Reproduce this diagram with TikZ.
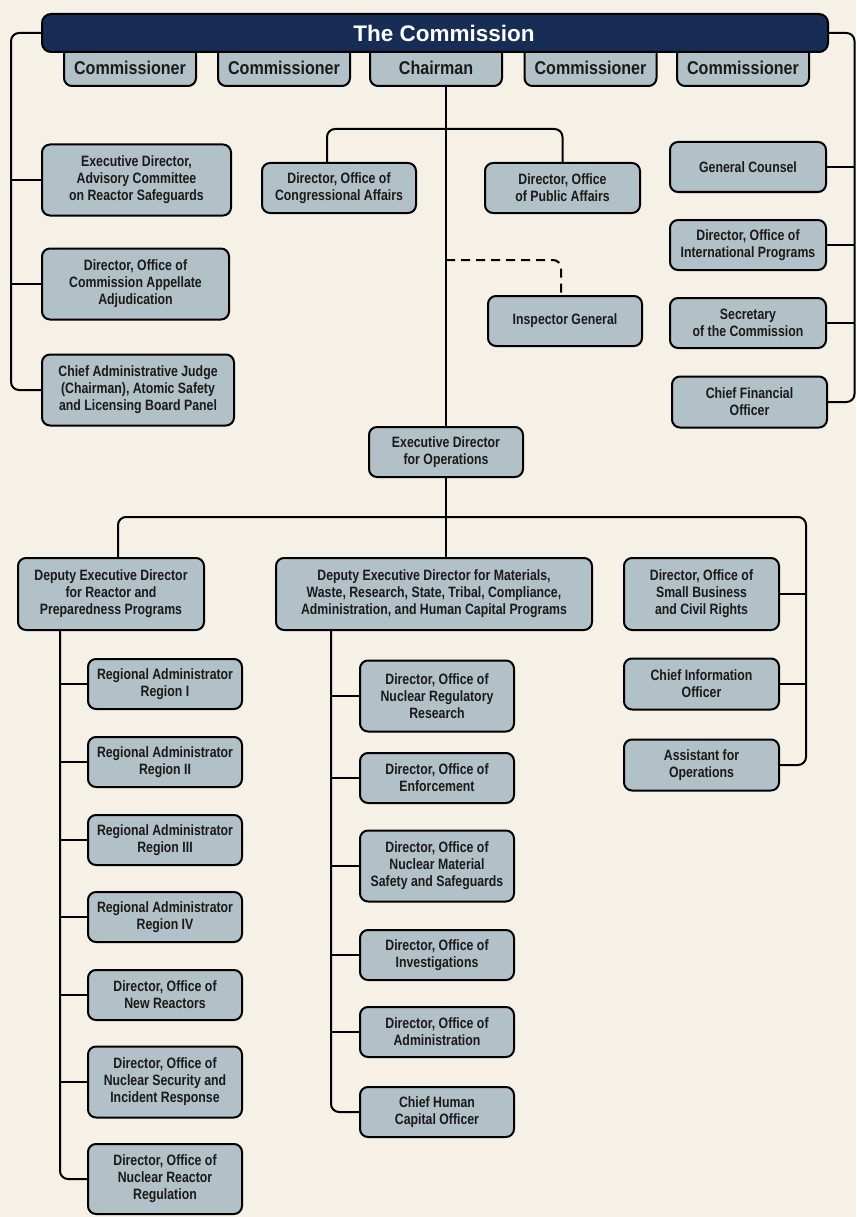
\documentclass[tikz,border=0pt]{standalone}
\usepackage{fontspec}
\newfontfamily\bodyf{Liberation Sans Bold}[FakeStretch=0.82]
\newfontfamily\headf{Liberation Sans Bold}[FakeStretch=0.87]
\newfontfamily\titlef{Liberation Sans Bold}
\definecolor{bgc}{RGB}{245,241,231}
\definecolor{boxc}{RGB}{178,192,199}
\definecolor{navy}{RGB}{24,45,86}
\definecolor{txtc}{RGB}{26,26,26}
\pgfdeclarelayer{back}
\pgfdeclarelayer{lines}
\pgfsetlayers{back,lines,main}
\tikzset{
  box/.style={draw=black, line width=2pt, fill=boxc, rounded corners=8pt, inner sep=0pt,
    align=center, text=txtc, font=\bodyf\fontsize{15}{17}\selectfont},
  combox/.style={box, font=\headf\fontsize{18.5}{20}\selectfont, minimum width=132pt,
    text height=35pt, text depth=11pt},
  titlebox/.style={draw=black, line width=2pt, fill=navy, rounded corners=9pt, inner sep=0pt,
    text=white, font=\titlef\fontsize{22.5}{26}\selectfont},
  conn/.style={draw=black, line width=2pt, rounded corners=8pt},
  dashconn/.style={conn, dash pattern=on 9pt off 6pt},
}
\begin{document}
\begin{tikzpicture}[x=1pt,y=-1pt]
\begin{pgfonlayer}{back}
  \fill[bgc] (0,0) rectangle (856,1217);
\end{pgfonlayer}
\useasboundingbox (0,0) rectangle (856,1217);

% commission level
\node[combox] (c1) at (130,63) {Commissioner};
\node[combox] (c2) at (284,63) {Commissioner};
\node[combox] (chair) at (436,63) {Chairman};
\node[combox] (c4) at (590.5,63) {Commissioner};
\node[combox] (c5) at (743,63) {Commissioner};
\node[titlebox, minimum width=786pt, minimum height=38pt] (bar) at (435,33) {\hspace*{18pt}The Commission};

% left staff
\node[box, minimum width=189pt, minimum height=71pt] (acrs) at (136.5,180) {Executive Director,\\Advisory Committee\\on Reactor Safeguards};
\node[box, minimum width=187pt, minimum height=71pt] (caa) at (135.5,284) {Director, Office of\\Commission Appellate\\Adjudication};
\node[box, minimum width=192pt, minimum height=71pt] (judge) at (138,390) {Chief Administrative Judge\\(Chairman), Atomic Safety\\and Licensing Board Panel};

% chairman staff
\node[box, minimum width=154pt, minimum height=50pt] (cong) at (339,188) {Director, Office of\\Congressional Affairs};
\node[box, minimum width=155pt, minimum height=50pt] (pub) at (562.5,188) {Director, Office\\of Public Affairs};
\node[box, minimum width=154pt, minimum height=50pt] (ig) at (565,321) {Inspector General};

% right staff
\node[box, minimum width=156pt, minimum height=50pt] (gc) at (748,167) {General Counsel};
\node[box, minimum width=156pt, minimum height=50pt] (intl) at (748,245) {Director, Office of\\International Programs};
\node[box, minimum width=156pt, minimum height=50pt] (sec) at (748,323) {Secretary\\of the Commission};
\node[box, minimum width=155pt, minimum height=51pt] (cfo) at (749.5,402) {Chief Financial\\Officer};

% EDO
\node[box, minimum width=154pt, minimum height=50pt] (edo) at (446,452) {Executive Director\\for Operations};

% deputies
\node[box, minimum width=186pt, minimum height=72pt] (drp) at (111,594) {Deputy Executive Director\\for Reactor and\\Preparedness Programs};
\node[box, minimum width=316pt, minimum height=72pt] (dmat) at (434,594) {Deputy Executive Director for Materials,\\Waste, Research, State, Tribal, Compliance,\\Administration, and Human Capital Programs};
\node[box, minimum width=155pt, minimum height=72pt] (sb) at (701.5,594) {Director, Office of\\Small Business\\and Civil Rights};
\node[box, minimum width=155pt, minimum height=51pt] (cio) at (701.5,684) {Chief Information\\Officer};
\node[box, minimum width=155pt, minimum height=51pt] (asst) at (701.5,765) {Assistant for\\Operations};

% reactor column
\node[box, minimum width=154pt, minimum height=50pt] (r1) at (165,684) {Regional Administrator\\Region I};
\node[box, minimum width=154pt, minimum height=50pt] (r2) at (165,762) {Regional Administrator\\Region II};
\node[box, minimum width=154pt, minimum height=50pt] (r3) at (165,840) {Regional Administrator\\Region III};
\node[box, minimum width=154pt, minimum height=50pt] (r4) at (165,917) {Regional Administrator\\Region IV};
\node[box, minimum width=154pt, minimum height=50pt] (nr) at (165,995) {Director, Office of\\New Reactors};
\node[box, minimum width=154pt, minimum height=71pt] (nsir) at (165,1082) {Director, Office of\\Nuclear Security and\\Incident Response};
\node[box, minimum width=154pt, minimum height=70pt] (nrr) at (165,1179) {Director, Office of\\Nuclear Reactor\\Regulation};

% materials column
\node[box, minimum width=154pt, minimum height=71pt] (res) at (437,696) {Director, Office of\\Nuclear Regulatory\\Research};
\node[box, minimum width=154pt, minimum height=50pt] (enf) at (437,778) {Director, Office of\\Enforcement};
\node[box, minimum width=154pt, minimum height=71pt] (nmss) at (437,866) {Director, Office of\\Nuclear Material\\Safety and Safeguards};
\node[box, minimum width=154pt, minimum height=50pt] (inv) at (437,955) {Director, Office of\\Investigations};
\node[box, minimum width=154pt, minimum height=50pt] (adm) at (437,1032) {Director, Office of\\Administration};
\node[box, minimum width=154pt, minimum height=50pt] (chc) at (437,1112) {Chief Human\\Capital Officer};

% helper coordinates
\coordinate (lb) at (11,0);
\coordinate (rb) at (854.5,0);
\coordinate (cpj) at (327,129);
\coordinate (igj) at (446,260);
\coordinate (igv) at (561,0);
\coordinate (hb) at (0,517);
\coordinate (lv2) at (118,0);
\coordinate (rv) at (806,0);
\coordinate (lv) at (60,0);
\coordinate (mv) at (331,0);

\begin{pgfonlayer}{lines}
  % left bracket
  \draw[conn] (bar.west) -- (bar.west -| lb) |- (judge.west);
  \draw[conn] (acrs.west) -- (acrs.west -| lb);
  \draw[conn] (caa.west) -- (caa.west -| lb);
  % right bracket
  \draw[conn] (bar.east) -- (bar.east -| rb) |- (cfo.east);
  \draw[conn] (gc.east) -- (gc.east -| rb);
  \draw[conn] (intl.east) -- (intl.east -| rb);
  \draw[conn] (sec.east) -- (sec.east -| rb);
  % chairman line
  \draw[conn] (chair.south -| edo.north) -- (edo.north);
  \draw[conn] (cong.north -| cpj) |- (pub.north |- cpj) -- (pub.north);
  \draw[dashconn] (igj) -| (ig.north -| igv);
  % EDO
  \draw[conn] (edo.south) -- (edo.south |- dmat.north);
  \draw[conn] (drp.north -| lv2) |- (hb -| rv) |- (asst.east);
  \draw[conn] (sb.east) -- (sb.east -| rv);
  \draw[conn] (cio.east) -- (cio.east -| rv);
  % reactor column
  \draw[conn] (drp.south -| lv) |- (nrr.west);
  \foreach \n in {r1,r2,r3,r4,nr,nsir} \draw[conn] (\n.west) -- (\n.west -| lv);
  % materials column
  \draw[conn] (dmat.south -| mv) |- (chc.west);
  \foreach \n in {res,enf,nmss,inv,adm} \draw[conn] (\n.west) -- (\n.west -| mv);
\end{pgfonlayer}
\end{tikzpicture}
\end{document}
